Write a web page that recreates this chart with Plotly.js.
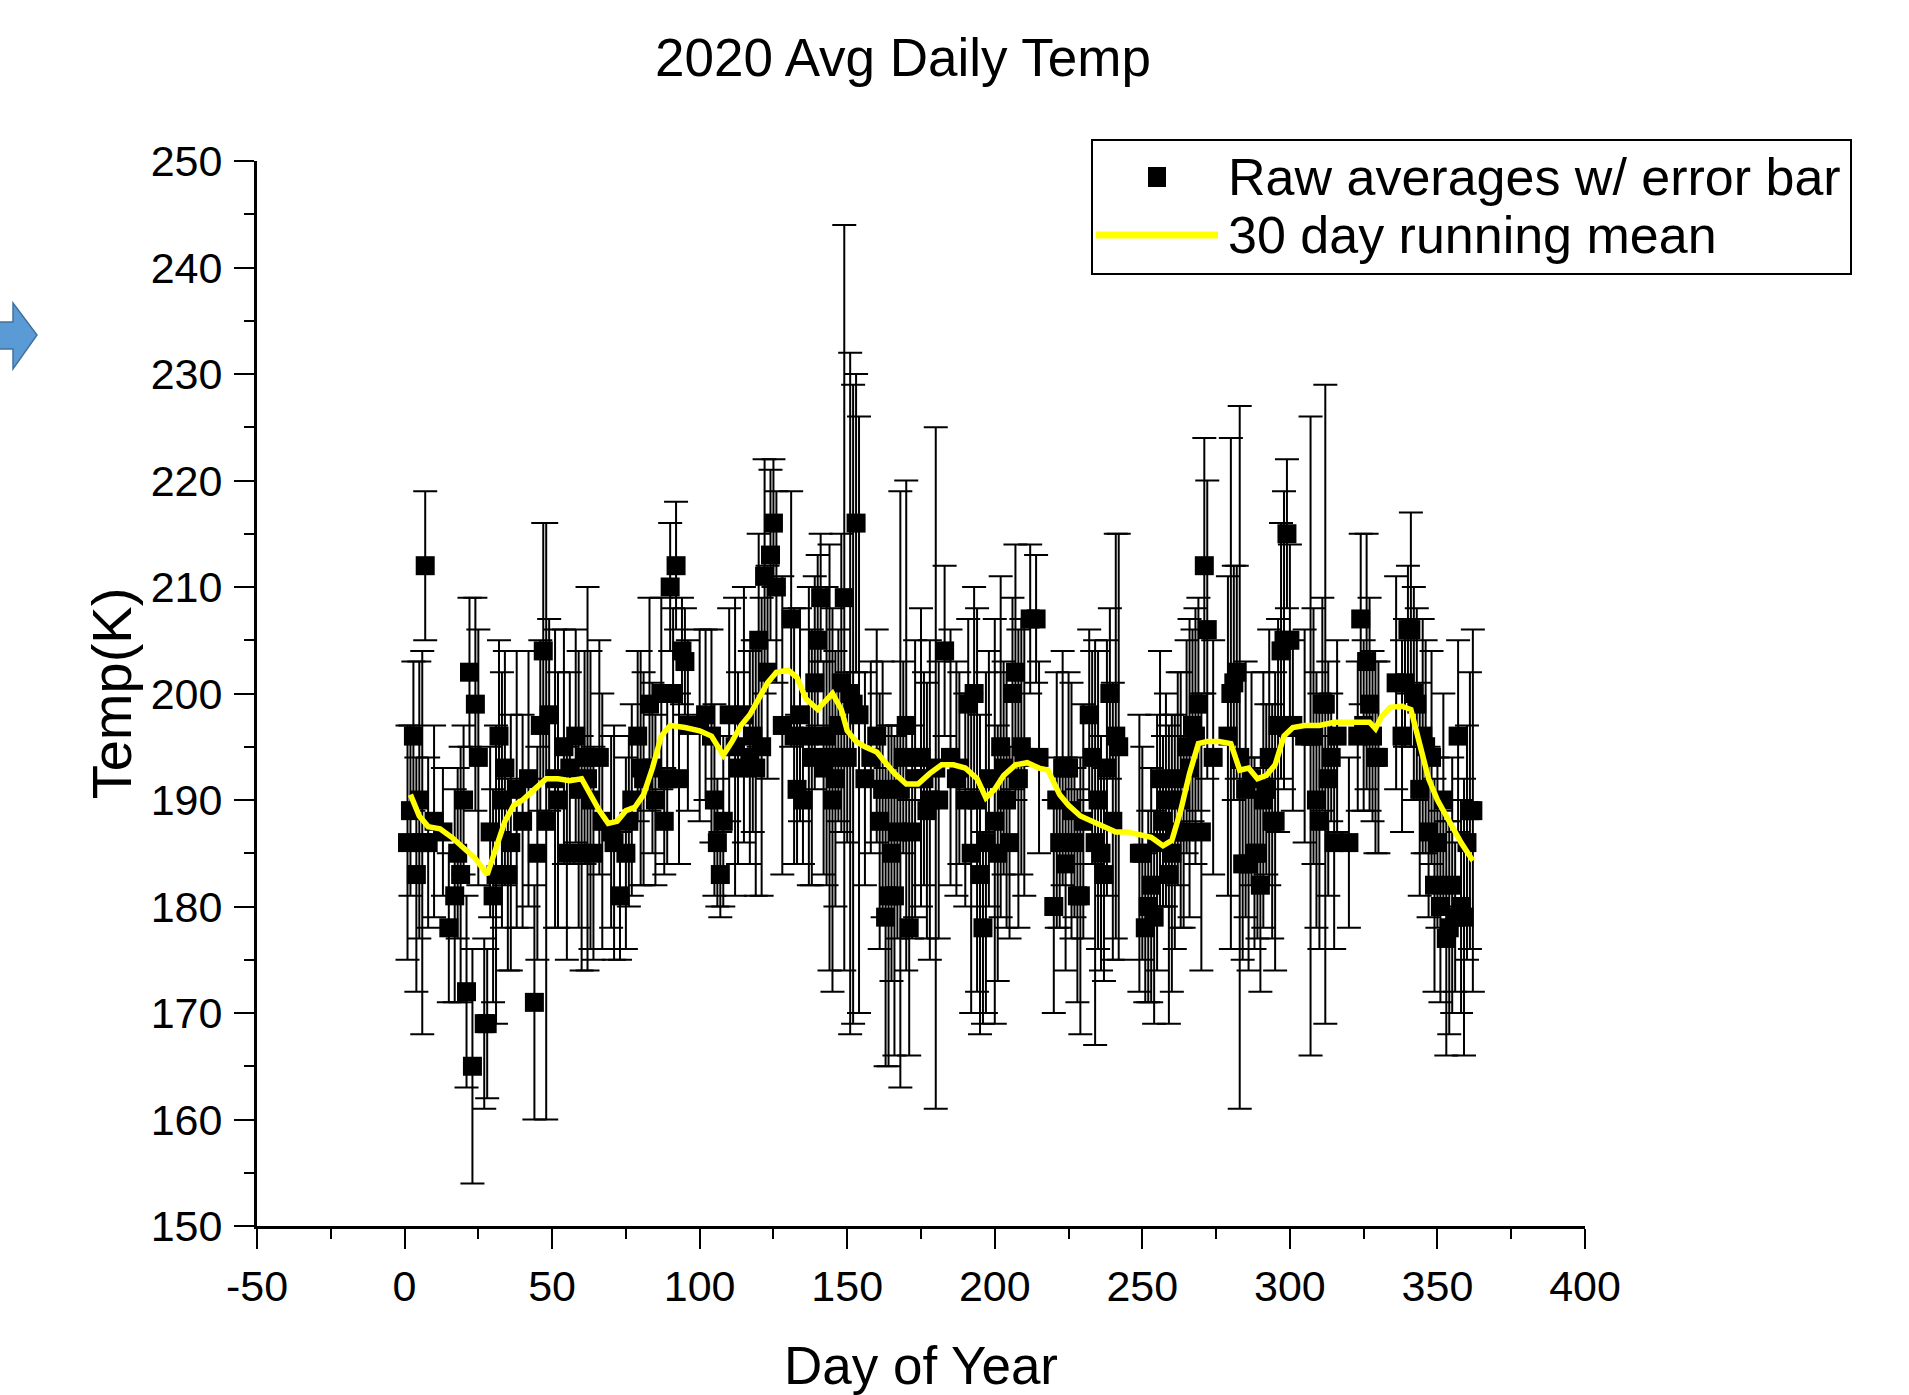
<!DOCTYPE html>
<html>
<head>
<meta charset="utf-8">
<script src="https://cdn.plot.ly/plotly-3.0.1.min.js"></script>
<style>html,body{margin:0;padding:0;background:#fff;}#chart{width:1909px;height:1395px;}</style>
</head>
<body>
<div id="chart"></div>
<script>
// Day of year for each raw daily average
const days = [1,2,3,4,5,6,7,8,10,13,15,17,18,19,20,21,22,23,24,25,27,28,29,30,31,32,33,34,35,36,38,40,42,44,45,46,47,48,49,51,52,54,55,56,58,59,60,61,62,63,64,66,67,70,71,73,75,76,77,79,80,81,83,84,85,87,88,89,90,91,92,93,94,95,96,100,102,104,105,106,107,108,110,112,113,115,117,118,119,120,121,122,123,124,125,126,128,131,132,133,134,135,137,138,139,140,141,142,143,144,145,146,147,148,149,150,151,152,153,154,156,158,160,161,162,163,164,165,166,167,168,169,170,171,172,173,175,176,177,178,180,181,183,185,187,188,190,191,192,193,194,195,196,197,198,200,201,202,203,204,205,206,207,208,209,210,212,214,215,220,221,222,223,224,225,226,227,228,229,230,232,233,234,235,236,237,238,239,240,241,242,249,250,251,252,253,254,255,256,257,258,259,260,261,262,263,264,265,266,267,268,269,270,271,272,274,279,280,281,282,283,284,285,286,287,288,289,290,291,292,293,294,295,296,297,298,299,300,301,305,307,308,309,310,311,312,313,314,315,316,320,323,324,325,326,327,328,329,330,336,338,339,340,341,342,343,344,345,346,347,348,349,350,351,352,353,354,355,356,357,358,359,360,361,362];
// Raw daily average temperature (K)
const temps = [186,189,196,183,190,186,212,186,188,187,178,181,185,183,190,172,202,165,199,194,169,169,187,181,183,196,190,193,183,186,191,188,192,171,185,197,204,188,198,192,190,195,185,193,196,191,185,194,192,190,185,194,188,187,186,181,185,188,190,196,193,192,199,193,190,200,188,192,210,200,212,192,204,203,197,197,198,196,190,186,183,188,198,195,193,198,194,196,193,205,195,211,202,213,216,210,197,207,196,191,198,190,196,194,201,205,209,193,196,194,190,192,197,201,209,194,200,199,216,198,192,194,196,188,191,179,181,185,181,187,191,194,197,178,187,192,194,192,189,190,193,190,204,194,192,193,190,199,185,200,190,183,178,186,192,188,185,195,193,190,186,200,202,192,195,194,207,207,194,180,190,186,193,184,193,189,186,181,181,188,198,194,186,190,185,183,193,200,188,196,195,185,185,178,180,182,179,186,192,188,190,183,185,187,192,190,187,195,193,197,196,199,187,212,206,194,196,200,201,202,194,184,191,184,192,185,185,182,190,191,194,188,188,197,204,205,215,205,197,196,196,196,190,188,199,199,192,194,186,196,186,196,207,197,203,199,196,194,194,201,196,201,206,206,200,199,191,196,195,187,194,182,186,180,190,177,178,182,179,196,180,179,186,189,189,186];
// Error bar half-widths (K)
const errs = [11,8,7,11,13,18,7,8,9,6,7,10,8,12,7,9,7,11,10,12,8,7,8,10,14,9,12,11,9,12,13,10,12,11,10,8,12,28,9,14,12,11,10,9,10,13,11,10,18,14,10,11,12,9,11,6,9,8,9,8,11,10,10,8,8,9,5,8,6,8,6,8,5,5,8,9,8,10,9,6,4,8,10,14,9,12,10,9,12,10,14,11,10,8,6,9,14,12,12,7,10,6,14,12,10,8,6,10,14,20,18,12,9,14,35,8,32,30,14,28,10,9,10,12,12,14,16,12,15,10,28,9,23,12,10,13,14,10,12,15,32,13,8,12,11,9,10,8,15,10,18,15,9,16,12,19,12,16,10,12,9,9,12,14,12,13,7,6,9,10,12,8,11,10,9,12,7,10,13,11,8,10,19,14,11,10,12,8,13,19,20,13,10,7,9,11,10,12,12,8,10,14,13,11,10,12,9,10,14,9,12,10,13,12,14,11,15,24,11,10,33,9,12,10,10,9,8,10,12,8,12,11,14,10,12,14,7,9,8,10,30,12,12,12,10,30,11,6,10,9,8,7,8,8,12,10,8,9,9,10,9,6,6,11,10,9,10,11,10,8,10,10,8,9,10,11,10,12,7,9,10,13,11,13,17];
// 30 day running mean
const meanDays = [2,5,8,12,16,20,24,28,31,34,37,40,44,48,52,56,60,63,66,69,72,75,78,81,84,87,90,95,100,104,108,111,114,117,120,123,126,130,133,136,140,143,145,148,150,153,156,160,163,166,170,174,178,182,186,190,194,197,200,203,207,211,215,218,222,225,229,233,237,241,245,249,253,257,260,263,266,269,272,276,280,283,286,289,292,295,298,301,305,310,315,320,324,327,329,331,334,338,341,344,347,350,354,358,362];
const meanTemps = [190.5,188.5,187.5,187.3,186.5,185.5,184.5,183,185.5,188,189.5,190,191,192,192,191.8,192,190.5,189,187.8,188,189,189.3,190.5,193,196,197,196.8,196.5,196,194.2,195.5,197,198,199.5,201,202,202.2,201.5,199.5,198.5,199.5,200,198.5,196.5,195.5,195,194.5,193.5,192.5,191.5,191.5,192.5,193.3,193.3,193,192,190.2,191,192.3,193.3,193.5,193,192.8,190.5,189.5,188.5,188,187.5,187,187,186.8,186.5,185.7,186.2,189,192.5,195.3,195.5,195.5,195.3,192.8,193,192,192.3,193.3,196,196.8,197,197,197.3,197.3,197.3,197.3,196.7,197.8,198.7,198.8,198.5,195,192,190,188,186,184.3];

const xTicks = [-50,0,50,100,150,200,250,300,350,400];
const yTicks = [150,160,170,180,190,200,210,220,230,240,250];

const FONT = "Liberation Sans, Arial, Helvetica, sans-serif";

const rawTrace = {
  x: days, y: temps, type: 'scatter', mode: 'markers', name: 'Raw averages w/ error bar',
  marker: {symbol: 'square', size: 19, color: '#000000'},
  error_y: {type: 'data', array: errs, visible: true, color: '#000000', thickness: 2, width: 12},
  cliponaxis: false
};
const meanTrace = {
  x: meanDays, y: meanTemps, type: 'scatter', mode: 'lines', name: '30 day running mean',
  line: {color: '#ffff00', width: 5.5}
};

// helpers for paper coordinates from pixel positions
const L = 257, R = 1585, T = 161, B = 1226;
const px = X => (X - L) / (R - L);
const py = Y => (B - Y) / (B - T);

const arrowPts = [[-5,322],[13,322],[13,303],[37,335],[13,369],[13,349],[-5,349]];
const arrowPath = 'M ' + arrowPts.map(p => px(p[0]).toFixed(5) + ' ' + py(p[1]).toFixed(5)).join(' L ') + ' Z';

const layout = {
  width: 1909, height: 1395,
  paper_bgcolor: '#ffffff', plot_bgcolor: '#ffffff',
  margin: {l: L, r: 1909 - R, t: T, b: 1395 - B, pad: 0},
  showlegend: false,
  font: {family: FONT, color: '#000000'},
  title: {text: '2020 Avg Daily Temp', font: {size: 53, family: FONT, color: '#000'},
          x: px(903), xref: 'paper', xanchor: 'center', y: 1 - 57/1395, yref: 'container', yanchor: 'middle'},
  xaxis: {
    range: [-50, 400], tickvals: xTicks, ticktext: xTicks.map(String),
    showgrid: false, zeroline: false, showline: true, linecolor: '#000', linewidth: 3,
    ticks: 'outside', ticklen: 20, tickwidth: 2, tickcolor: '#000',
    minor: {tickvals: [-25,25,75,125,175,225,275,325,375], ticks: 'outside', ticklen: 10, tickwidth: 2, tickcolor: '#000', showgrid: false},
    tickfont: {size: 43, family: FONT}, ticklabelstandoff: 0,
    title: {text: 'Day of Year', font: {size: 53, family: FONT}, standoff: 40}
  },
  yaxis: {
    range: [150, 250], tickvals: yTicks, ticktext: yTicks.map(String),
    showgrid: false, zeroline: false, showline: true, linecolor: '#000', linewidth: 3,
    ticks: 'outside', ticklen: 20, tickwidth: 2, tickcolor: '#000',
    minor: {tickvals: [155,165,175,185,195,205,215,225,235,245], ticks: 'outside', ticklen: 10, tickwidth: 2, tickcolor: '#000', showgrid: false},
    tickfont: {size: 43, family: FONT}, ticklabelstandoff: 3,
    title: {text: 'Temp(K)', font: {size: 56, family: FONT}, standoff: 2}
  },
  shapes: [
    {type: 'rect', xref: 'paper', yref: 'paper', x0: px(1092), x1: px(1851), y0: py(274), y1: py(140),
     line: {color: '#000', width: 2}, fillcolor: '#ffffff', layer: 'above'},
    {type: 'rect', xref: 'paper', yref: 'paper', x0: px(1148), x1: px(1166), y0: py(187), y1: py(167),
     line: {width: 0}, fillcolor: '#000000', layer: 'above'},
    {type: 'line', xref: 'paper', yref: 'paper', x0: px(1096), x1: px(1218), y0: py(235), y1: py(235),
     line: {color: '#ffff00', width: 7}, layer: 'above'},
    {type: 'path', xref: 'paper', yref: 'paper', path: arrowPath,
     fillcolor: '#5b9bd5', line: {color: '#41719c', width: 1.5}, layer: 'above'}
  ],
  annotations: [
    {text: 'Raw averages w/ error bar', xref: 'paper', yref: 'paper', x: px(1226), y: py(177),
     xanchor: 'left', yanchor: 'middle', showarrow: false, font: {size: 52, family: FONT, color: '#000'}},
    {text: '30 day running mean', xref: 'paper', yref: 'paper', x: px(1226), y: py(235),
     xanchor: 'left', yanchor: 'middle', showarrow: false, font: {size: 52, family: FONT, color: '#000'}}
  ]
};

Plotly.newPlot('chart', [rawTrace, meanTrace], layout, {displayModeBar: false, staticPlot: true});
</script>
</body>
</html>
